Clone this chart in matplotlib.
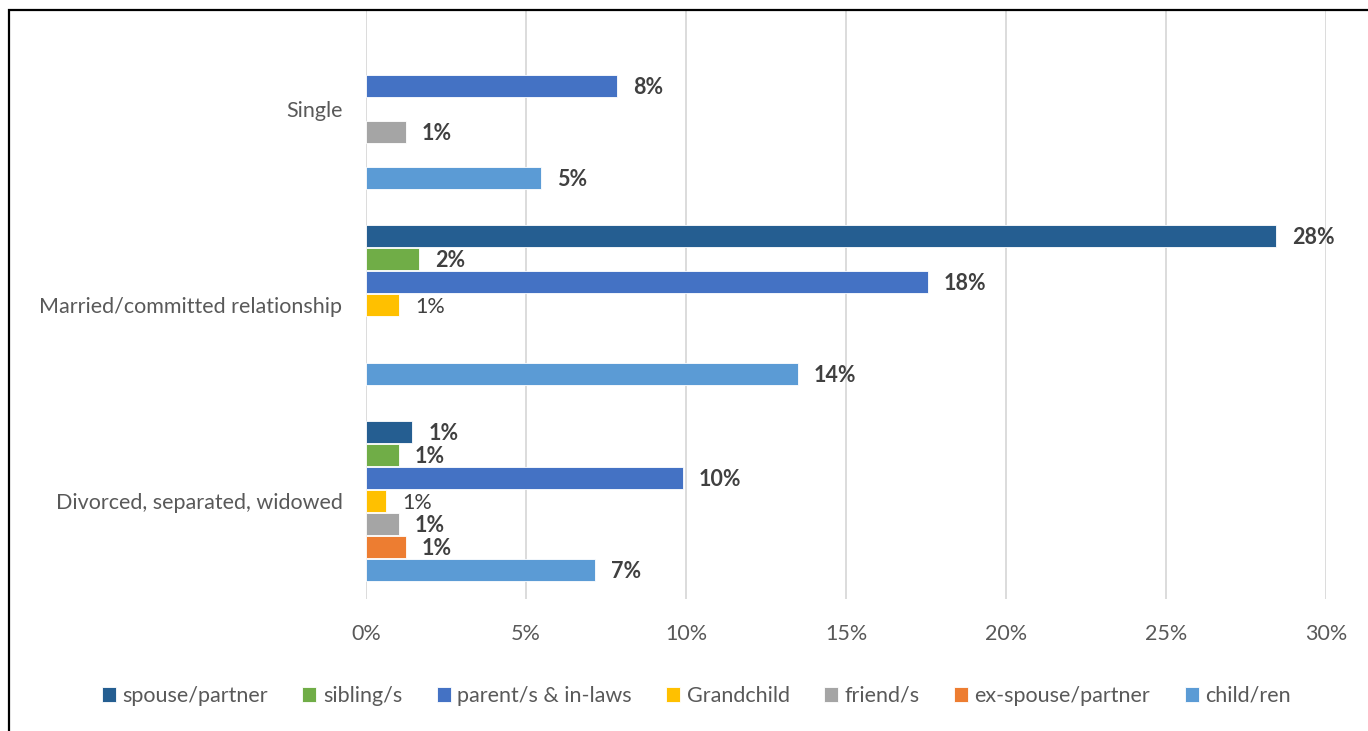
import matplotlib
matplotlib.use("Agg")
import matplotlib.pyplot as plt
import numpy as np
from matplotlib.patches import Rectangle

plt.rcParams['font.family'] = ['Lato', 'DejaVu Sans']

categories = ["Single", "Married/committed relationship", "Divorced, separated, widowed"]
series = ["spouse/partner", "sibling/s", "parent/s & in-laws", "Grandchild",
          "friend/s", "ex-spouse/partner", "child/ren"]
colors = ["#255e91", "#70ad47", "#4472c4", "#ffc000", "#a5a5a5", "#ed7d31", "#5b9bd5"]

# percent values per series, one entry per category (None = no bar)
spouse = [None, 28.45, 1.45]
sibling = [None, 1.65, 1.03]
parents = [7.84, 17.55, 9.9]
grandchild = [None, 1.03, 0.63]
friends = [1.25, None, 1.03]
ex_spouse = [None, None, 1.25]
children = [5.47, 13.5, 7.17]
values = [spouse, sibling, parents, grandchild, friends, ex_spouse, children]

fig = plt.figure(figsize=(13.68, 7.31), dpi=100)
ax = fig.add_axes([366 / 1368, 1 - 599 / 731, 960 / 1368, 588 / 731])

slot = 23 / 196
bar_h = 22 / 196
y = np.arange(len(categories))
for i, (name, vals, c) in enumerate(zip(series, values, colors)):
    off = (i - 3) * slot
    ys = [y[k] + off for k, v in enumerate(vals) if v is not None]
    xs = [v for v in vals if v is not None]
    bars = ax.barh(ys, xs, height=bar_h, color=c, edgecolor="white",
                   linewidth=0.6, label=name)
    for b, v in zip(bars, xs):
        ax.text(v + 0.5, b.get_y() + b.get_height() / 2 + 0.01, f"{v:.0f}%",
                va="center", ha="left", fontsize=15.5, color="#404040",
                fontweight="normal" if name == "Grandchild" else "bold")

ax.set_xlim(0, 30)
ax.set_ylim(2.5, -0.5)
ax.set_xticks(np.arange(0, 31, 5))
ax.set_xticklabels([f"{t}%" for t in range(0, 31, 5)])
ax.set_yticks(y)
ax.set_yticklabels(categories)
ax.tick_params(axis="both", length=0, labelsize=15.5, labelcolor="#595959")
ax.tick_params(axis="x", pad=18)
ax.tick_params(axis="y", pad=17)
ax.grid(axis="x", color="#d9d9d9", linewidth=1.3)
ax.set_axisbelow(True)
for s in ax.spines.values():
    s.set_visible(False)

fig.legend(loc="center", bbox_to_anchor=(0.509, 1 - 696 / 731), ncol=7,
           frameon=False, fontsize=15.5, handlelength=0.65, handleheight=0.65,
           handletextpad=0.3, columnspacing=1.6, labelcolor="#595959")

# outer frame
fig.patches.append(Rectangle((9 / 1368, -0.1), 1.2, 1 - 10 / 731 + 0.1,
                             transform=fig.transFigure, fill=False,
                             edgecolor="black", linewidth=1.6))

fig.savefig("out.png", dpi=100)
